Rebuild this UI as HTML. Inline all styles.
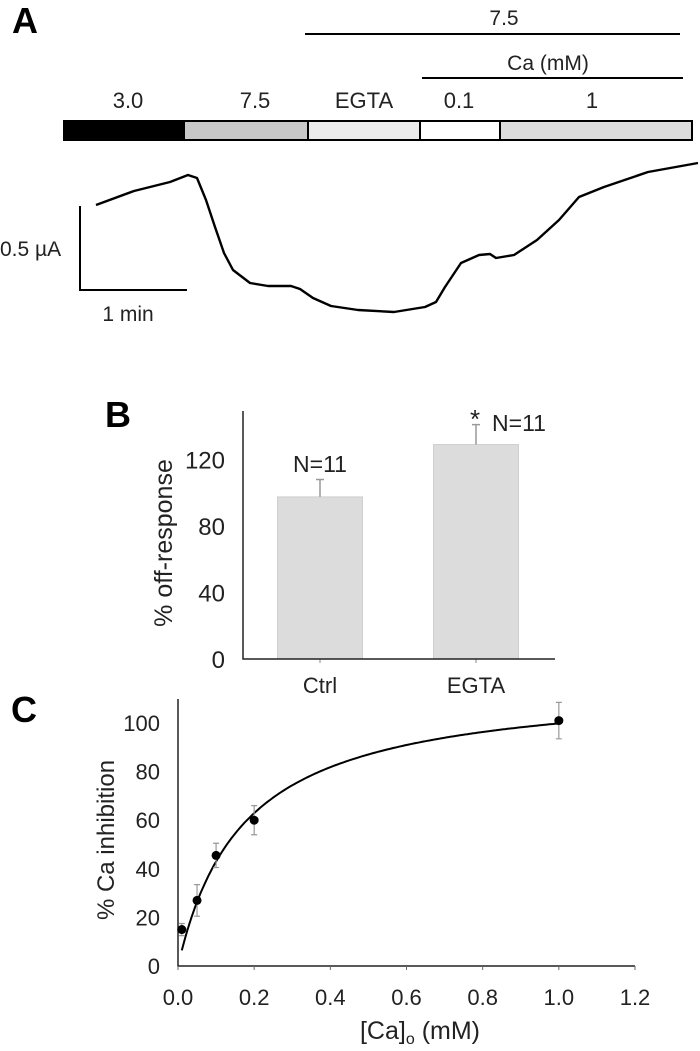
<!DOCTYPE html>
<html><head><meta charset="utf-8"><style>
body{margin:0;background:#fff}
svg{display:block;font-family:"Liberation Sans",sans-serif}
</style></head><body>
<svg width="700" height="1051" viewBox="0 0 700 1051">
<g id="A"></g>
<g id="B"></g>
<g id="C"></g>
</svg>
<script>
// Panel A trace (x px, y px)
const traceX=[96,134,170,188,197,206,215,224,233,250,268,291,300,313,331,358,394,425,436,445,461,479,490,496,514,537,559,579,604,648,698];
const traceY=[205,191,182,175,178,200,227,253,270,283,286,286,289,298,306,310,312,307,302,287,263,255,254,258,255,240,220,197,187,172,163];
// Panel B data
const bCats=["Ctrl","EGTA"];
const bVals=[97.5,129];
const bErrs=[10.5,12];
const bTicks=[0,40,80,120];
const bN=["N=11","N=11"];
// Panel C data
const cX=[0.01,0.05,0.1,0.2,1.0];
const cY=[15,27,45.5,60,101];
const cErr=[2.5,6.5,5,6,7.5];
const cXTicks=[0,0.2,0.4,0.6,0.8,1.0,1.2];
const cYTicks=[0,20,40,60,80,100];
const fitVmax=117, fitK=0.172;

const NS="http://www.w3.org/2000/svg";
function mk(parent,tag,attrs,text){const e=document.createElementNS(NS,tag);for(const k in attrs)e.setAttribute(k,attrs[k]);if(text!==undefined)e.textContent=text;parent.appendChild(e);return e;}

// ---------- Panel A ----------
const A=document.getElementById('A');
let t=mk(A,'text',{x:12,y:33,'font-size':36,'font-weight':'bold'},'A');


let l=mk(A,'line',{x1:305,y1:34,x2:680,y2:34,stroke:'#000','stroke-width':2});


t=mk(A,'text',{x:504,y:25,'font-size':21,'text-anchor':'middle',fill:'#222'},'7.5');


l=mk(A,'line',{x1:422,y1:78,x2:683,y2:78,stroke:'#000','stroke-width':2});


t=mk(A,'text',{x:548,y:70,'font-size':21,'text-anchor':'middle',fill:'#222'},'Ca (mM)');


const segs=[[64,184,'#000','3.0',128],[184,308,'#c8c8c8','7.5',255],[308,420,'#ebebeb','EGTA',364],[420,500,'#fff','0.1',459],[500,692,'#dcdcdc','1',592]];
segs.forEach((s,i)=>{
  const r=mk(A,'rect',{x:s[0],y:121,width:s[1]-s[0],height:19,fill:s[2],stroke:'#000','stroke-width':2});
  
  
  const tt=mk(A,'text',{x:s[4],y:108,'font-size':22,'text-anchor':'middle',fill:'#222'},s[3]);
  
  
});
let d=traceX.map((x,i)=>(i?'L':'M')+x+' '+traceY[i]).join(' ');
let p=mk(A,'path',{d:d,fill:'none',stroke:'#000','stroke-width':2.4,'stroke-linejoin':'round'});


p=mk(A,'path',{d:'M80 206 L80 290 L187 290',fill:'none',stroke:'#000','stroke-width':2});


t=mk(A,'text',{x:0,y:256,'font-size':21,fill:'#222'},'0.5 µA');


t=mk(A,'text',{x:128,y:321,'font-size':21,'text-anchor':'middle',fill:'#222'},'1 min');



// ---------- Panel B ----------
const B=document.getElementById('B');
const bx0=243,by0=659,bpx=66.5/40;
const by=v=>by0-v*bpx;
const bCenters=[320,476];
t=mk(B,'text',{x:105,y:427,'font-size':36,'font-weight':'bold'},'B');


bCats.forEach((c,i)=>{
  const cx=bCenters[i];
  const r=mk(B,'rect',{x:cx-42.5,y:by(bVals[i]),width:85,height:by0-by(bVals[i]),fill:'#dcdcdc',stroke:'#cfcfcf'});
  
  
  const e=mk(B,'path',{d:`M${cx} ${by(bVals[i])} L${cx} ${by(bVals[i]+bErrs[i])} M${cx-4} ${by(bVals[i]+bErrs[i])} L${cx+4} ${by(bVals[i]+bErrs[i])}`,stroke:'#999','stroke-width':1.5,fill:'none'});
  
  
  const tl=mk(B,'text',{x:cx,y:693,'font-size':22,'text-anchor':'middle',fill:'#222'},c);
  
  
  const tk=mk(B,'line',{x1:cx,y1:by0,x2:cx,y2:by0+4,stroke:'#888'});
  
  
});
t=mk(B,'text',{x:320,y:472,'font-size':23,'text-anchor':'middle',fill:'#222'},bN[0]);


t=mk(B,'text',{x:475,y:428,'font-size':26,'text-anchor':'middle',fill:'#222'},'*');


t=mk(B,'text',{x:519,y:431,'font-size':23,'text-anchor':'middle',fill:'#222'},bN[1]);


bTicks.forEach(v=>{
  const tt=mk(B,'text',{x:225,y:by(v)+9,'font-size':24,'text-anchor':'end',fill:'#222'},v);
  
  
});
p=mk(B,'path',{d:`M${bx0} 411 L${bx0} ${by0} L555 ${by0}`,fill:'none',stroke:'#222','stroke-width':1.5});


t=mk(B,'text',{x:0,y:0,'font-size':25,'text-anchor':'middle',fill:'#222',transform:'translate(172,543) rotate(-90)'},'% off-response');



// ---------- Panel C ----------
const C=document.getElementById('C');
const cx0=178,cx1=635,cy0=966,cy100=723;
const sx=v=>cx0+v/1.2*(cx1-cx0);
const sy=v=>cy0-v/100*(cy0-cy100);
t=mk(C,'text',{x:11,y:722,'font-size':36,'font-weight':'bold'},'C');


p=mk(C,'path',{d:`M${cx0} 699 L${cx0} ${cy0} L${cx1} ${cy0}`,fill:'none',stroke:'#222','stroke-width':1.5});


cXTicks.forEach(v=>{
  const tk=mk(C,'line',{x1:sx(v),y1:cy0,x2:sx(v),y2:cy0+4,stroke:'#666'});
  
  
  const tt=mk(C,'text',{x:sx(v),y:1005,'font-size':22,'text-anchor':'middle',fill:'#222'},v.toFixed(1));
  
  
});
cYTicks.forEach(v=>{
  const tt=mk(C,'text',{x:160,y:sy(v)+8,'font-size':22,'text-anchor':'end',fill:'#222'},v);
  
  
});
let pts=[];
for(let x=0.01;x<=1.0001;x+=0.005){pts.push(sx(x).toFixed(1)+' '+sy(fitVmax*x/(fitK+x)).toFixed(1));}
p=mk(C,'path',{d:'M'+pts.join(' L'),fill:'none',stroke:'#000','stroke-width':2});


cX.forEach((x,i)=>{
  const X=sx(x),y1=sy(cY[i]-cErr[i]),y2=sy(cY[i]+cErr[i]);
  const e=mk(C,'path',{d:`M${X} ${y1} L${X} ${y2} M${X-3} ${y1} L${X+3} ${y1} M${X-3} ${y2} L${X+3} ${y2}`,stroke:'#999','stroke-width':1.2,fill:'none'});
  
  
  const c=mk(C,'circle',{cx:X,cy:sy(cY[i]),r:4.5,fill:'#000'});
  
  
});
t=mk(C,'text',{x:0,y:0,'font-size':24,'text-anchor':'middle',fill:'#222',transform:'translate(114,840) rotate(-90)'},'% Ca inhibition');


t=mk(C,'text',{x:420,y:1039,'font-size':25,'text-anchor':'middle',fill:'#222'});


t.innerHTML='[Ca]<tspan font-size="16" dy="5">o</tspan><tspan dy="-5"> (mM)</tspan>';
</script>
</body></html>
